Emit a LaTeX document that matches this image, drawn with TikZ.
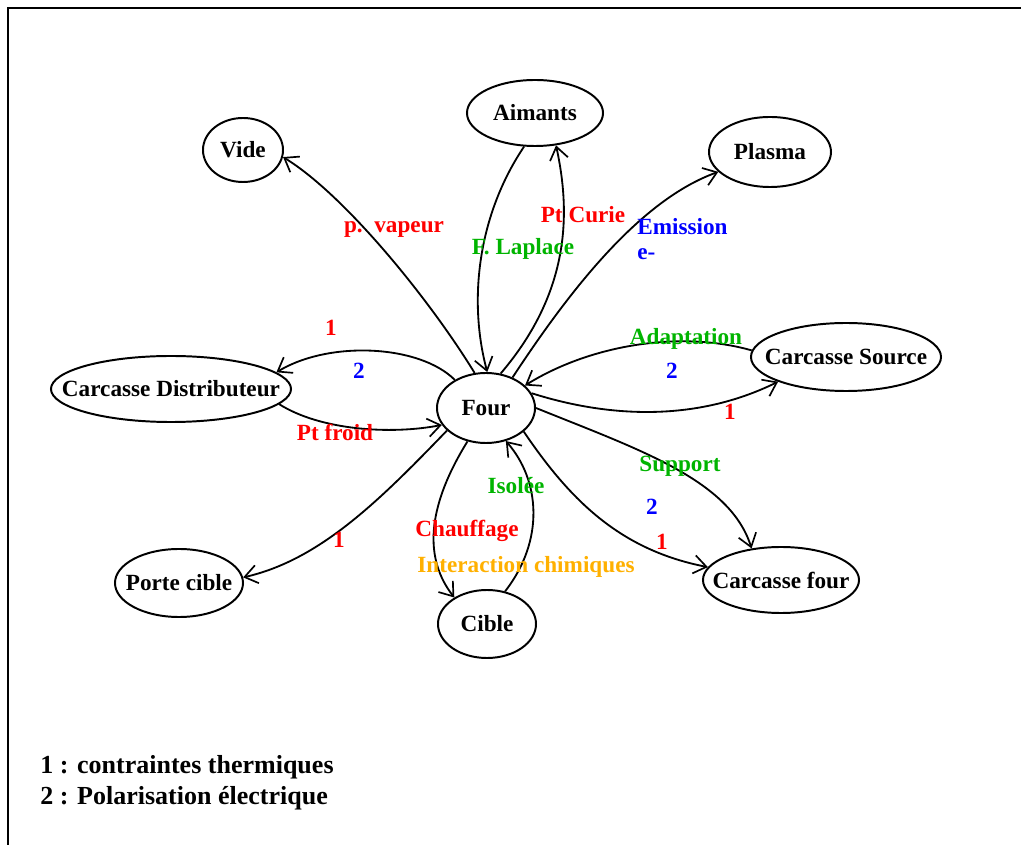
\documentclass[tikz,border=0pt]{standalone}
\usepackage{fontspec}
\setmainfont{Liberation Serif}
\usetikzlibrary{shapes.geometric,arrows.meta}
\definecolor{lred}{RGB}{255,0,0}
\definecolor{lgreen}{RGB}{0,180,0}
\definecolor{lblue}{RGB}{0,0,255}
\definecolor{lorange}{RGB}{255,176,0}
\tikzset{
  ebox/.style={draw, ellipse, line width=1.4pt, inner sep=0pt},
  ntext/.style={font=\fontsize{16.5}{19}\selectfont\bfseries, inner sep=0pt},
  lab/.style={font=\fontsize{16.5}{19}\selectfont\bfseries, inner sep=0pt},
  conn/.style={line width=1.3pt, -{Straight Barb[length=9pt,width=13pt,line width=1.2pt]}},
  legend/.style={font=\fontsize{18.5}{22}\selectfont\bfseries, inner sep=0pt, anchor=west}
}
\begin{document}
\begin{tikzpicture}[x=0.025cm,y=-0.025cm]
\useasboundingbox (0,0) rectangle (1021,845);
\draw[line width=1.5pt] (8,845) -- (8,8) -- (1021,8);

% nodes
\node[ebox, minimum width=2cm, minimum height=1.6cm, label={[ntext]center:Vide}] (vide) at (243,150) {};
\node[ebox, minimum width=3.4cm, minimum height=1.65cm, label={[ntext]center:Aimants}] (aim) at (535,113) {};
\node[ebox, minimum width=3.05cm, minimum height=1.75cm, label={[ntext]center:Plasma}] (plasma) at (770,152) {};
\node[ebox, minimum width=6cm, minimum height=1.65cm, label={[ntext]center:Carcasse Distributeur}] (cd) at (171,389) {};
\node[ebox, minimum width=2.45cm, minimum height=1.75cm, label={[ntext]center:Four}] (four) at (486,408) {};
\node[ebox, minimum width=4.75cm, minimum height=1.7cm, label={[ntext]center:Carcasse Source}] (cs) at (846,357) {};
\node[ebox, minimum width=3.2cm, minimum height=1.7cm, label={[ntext]center:Porte cible}] (pc) at (179,583) {};
\node[ebox, minimum width=2.45cm, minimum height=1.7cm, label={[ntext]center:Cible}] (cible) at (487,624) {};
\node[ebox, minimum width=3.9cm, minimum height=1.65cm, label={[ntext]center:Carcasse four}] (cf) at (781,580) {};

% connectors
\draw[conn] (four.108) .. controls (430,300) and (345,195) .. (vide.-10);
\draw[conn] (aim.252) .. controls (478,215) and (468,300) .. (four.88);
\draw[conn] (four.67) .. controls (572,290) and (570,210) .. (aim.-57);
\draw[conn] (four.49) .. controls (570,290) and (640,200) .. (plasma.201);
\draw[conn] (cs.176) .. controls (680,330) and (590,345) .. (four.30);
\draw[conn] (four.18) .. controls (600,415) and (690,425) .. (cs.200);
\draw[conn] (four.0) .. controls (640,450) and (730,480) .. (cf.133);
\draw[conn] (four.-32) .. controls (570,500) and (620,550) .. (cf.170);
\draw[conn] (four.241) .. controls (425,510) and (425,560) .. (cible.141);
\draw[conn] (cible.61) .. controls (545,540) and (540,480) .. (four.-59);
\draw[conn] (four.210) .. controls (380,500) and (320,560) .. (pc.5);
\draw[conn] (four.138) .. controls (420,345) and (330,340) .. (cd.9);
\draw[conn] (cd.-8) .. controls (320,430) and (390,435) .. (four.201);

% labels
\node[lab, text=lred] (l1) at (394,229) {p.\ \ vapeur};
\node[lab, text=lred] (l2) at (583,215) {Pt Curie};
\node[lab, text=lgreen] (l3) at (523,249) {F. Laplace};
\node[lab, text=lblue, anchor=west] (l4) at (637,227) {Emission};
\node[lab, text=lblue, anchor=west] (l5) at (637,254) {e-};
\node[lab, text=lred] (l6) at (331,328) {1};
\node[lab, text=lblue] (l7) at (359,371) {2};
\node[lab, text=lred] (l8) at (335,432) {Pt froid};
\node[lab, text=lgreen] (l9) at (686,339) {Adaptation};
\node[lab, text=lblue] (l10) at (672,371) {2};
\node[lab, text=lred] (l11) at (730,412) {1};
\node[lab, text=lgreen] (l12) at (680,466) {Support};
\node[lab, text=lblue] (l13) at (652,507) {2};
\node[lab, text=lred] (l14) at (662,542) {1};
\node[lab, text=lgreen] (l15) at (516,486) {Isolée};
\node[lab, text=lred] (l16) at (467,531) {Chauffage};
\node[lab, text=lorange] (l17) at (526,567) {Interaction chimiques};
\node[lab, text=lred] (l18) at (339,540) {1};

% legend
\node[legend] (leg1) at (40,767) {1 : contraintes thermiques};
\node[legend] (leg2) at (40,798) {2 : Polarisation électrique};
\end{tikzpicture}
\end{document}
